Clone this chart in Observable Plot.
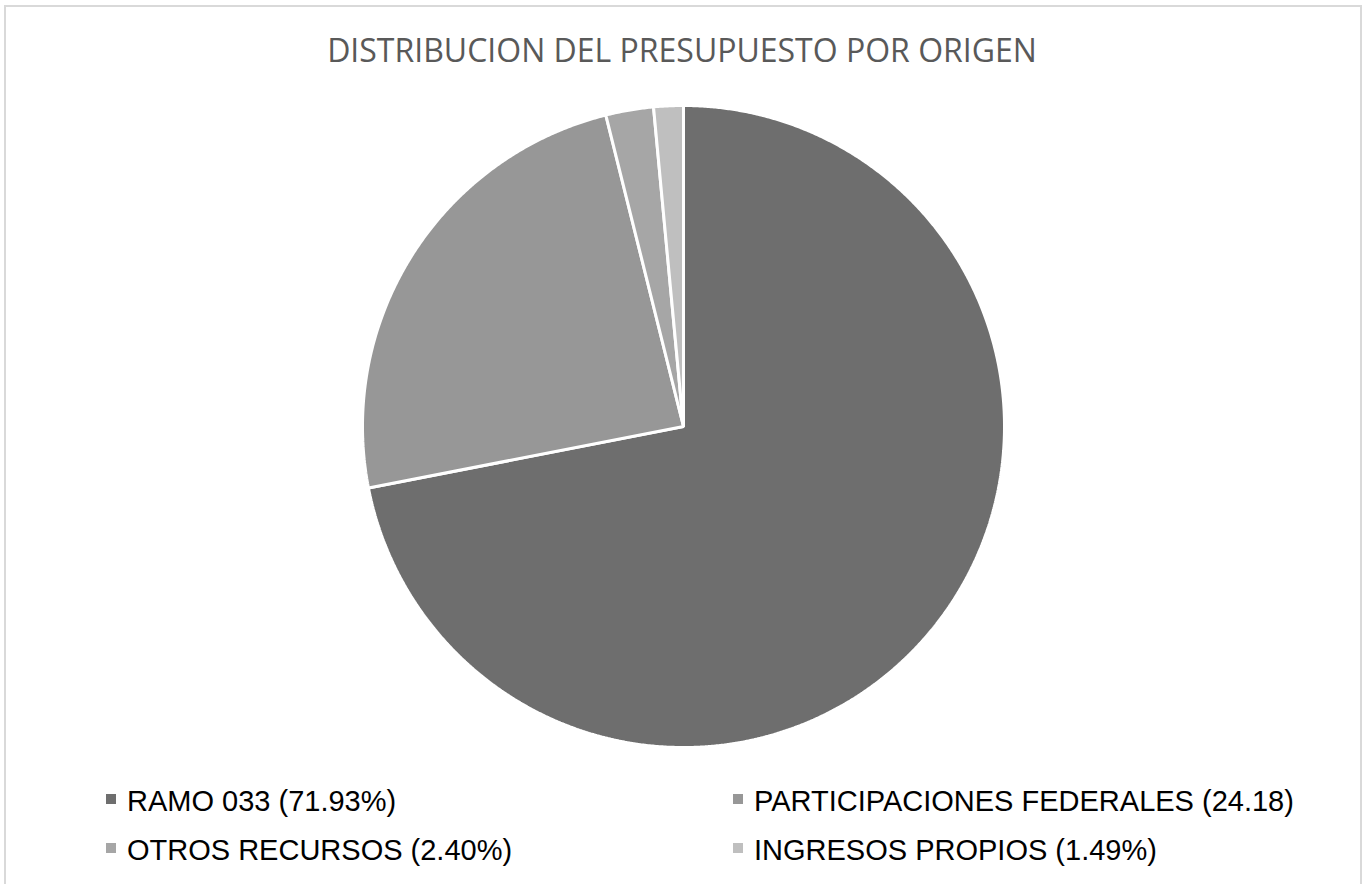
<!DOCTYPE html>
<html><head><meta charset="utf-8">
<script src="https://cdn.jsdelivr.net/npm/d3@7"></script>
<script src="https://cdn.jsdelivr.net/npm/@observablehq/plot@0.6"></script>
<style>
html,body{margin:0;padding:0;background:#fff;width:1364px;height:884px;overflow:hidden;position:relative}
#frame{position:absolute;left:4px;top:5px;width:1358px;height:900px;border:2px solid #d9d9d9;box-sizing:border-box}
#title{position:absolute;left:0;top:28px;width:1364px;text-align:center;font-family:"Open Sans",sans-serif;font-size:32px;color:#595959;line-height:44px;white-space:nowrap}
#chart{position:absolute;left:0;top:90px}
.leg{position:absolute;font-family:"Liberation Sans",Arial,sans-serif;font-size:29px;color:#000;line-height:34px;white-space:nowrap;padding-left:21px}
.leg span.sw{position:absolute;left:0;top:10px;width:10px;height:10px}
</style></head>
<body>
<div id="frame"></div>
<div id="title">DISTRIBUCION DEL PRESUPUESTO POR ORIGEN</div>
<div id="chart"></div>
<div id="legend"></div>
<script>
const categories = ["RAMO 033", "PARTICIPACIONES FEDERALES", "OTROS RECURSOS", "INGRESOS PROPIOS"];
const values = [71.93, 24.18, 2.40, 1.49];
const legendLabels = ["RAMO 033 (71.93%)", "PARTICIPACIONES FEDERALES (24.18)", "OTROS RECURSOS (2.40%)", "INGRESOS PROPIOS (1.49%)"];
const colors = ["#6e6e6e", "#979797", "#a6a6a6", "#bfbfbf"];

const W = 1364, H = 680, R = 321, cx = 683, cy = 336;

const arcs = d3.pie().sort(null).startAngle(0).endAngle(2 * Math.PI)(values);
const pts = [];
arcs.forEach((a, i) => {
  const cat = categories[i];
  pts.push({cat, x: 0, y: 0});
  const n = Math.max(2, Math.ceil((a.endAngle - a.startAngle) / 0.005));
  for (let k = 0; k <= n; k++) {
    const t = a.startAngle + (a.endAngle - a.startAngle) * k / n;
    pts.push({cat, x: Math.sin(t), y: Math.cos(t)});
  }
});

const chart = Plot.plot({
  width: W, height: H,
  margin: 0,
  x: {domain: [-cx / R, (W - cx) / R], range: [0, W], axis: null},
  y: {domain: [-(H - cy) / R, cy / R], range: [H, 0], axis: null},
  color: {domain: categories, range: colors},
  marks: [
    Plot.line(pts, {x: "x", y: "y", z: "cat", fill: "cat", stroke: "white", strokeWidth: 3, strokeLinejoin: "miter", curve: "linear-closed"})
  ]
});
document.getElementById("chart").appendChild(chart);

const pos = [[106, 784], [733, 784], [106, 833], [733, 833]];
const leg = document.getElementById("legend");
legendLabels.forEach((l, i) => {
  const d = document.createElement("div");
  d.className = "leg";
  d.style.left = pos[i][0] + "px";
  d.style.top = pos[i][1] + "px";
  d.innerHTML = `<span class="sw" style="background:${colors[i]}"></span>${l}`;
  leg.appendChild(d);
});
</script>
</body></html>
